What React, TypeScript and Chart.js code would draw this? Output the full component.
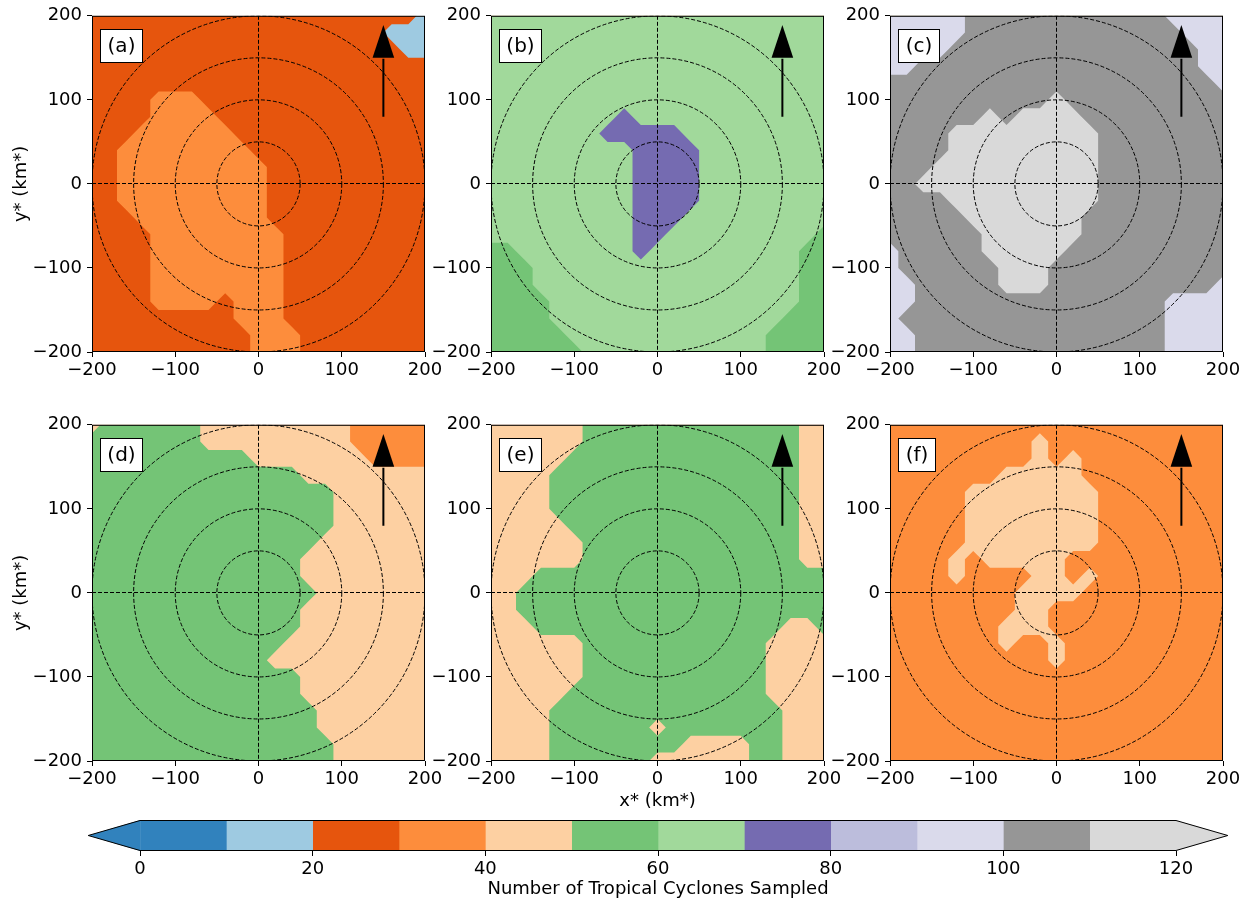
import React, { useEffect, useRef } from 'react';
import { Chart, registerables } from 'chart.js';

Chart.register(...registerables);

const FONT = "'DejaVu Sans', 'Liberation Sans', sans-serif";
const TICK_FONT_PX = 18;
const TITLE_FONT_PX = 18;
const TAG_FONT_PX = 20;

// Storm-relative grid (km*), shared by both axes of every panel.
const GRID_KM = [-200, -180, -160, -140, -120, -100, -80, -60, -40, -20, 0, 20, 40, 60, 80, 100, 120, 140, 160, 180, 200];
const AXIS_TICKS_KM = [-200, -100, 0, 100, 200];
const RING_RADII_KM = [50, 100, 150, 200];

// Colour-bar levels (number of TCs) and the colour of each 10-TC band.
const COUNT_LEVELS = [0, 10, 20, 30, 40, 50, 60, 70, 80, 90, 100, 110, 120];
const COUNT_TICKS = [0, 20, 40, 60, 80, 100, 120];
const BAND_COLORS = ['#3182bd', '#9ecae1', '#e6550d', '#fd8d3c', '#fdd0a2', '#74c476', '#a1d99b', '#756bb1', '#bcbddc', '#dadaeb', '#969696', '#d9d9d9'];
const UNDER_COLOR = '#3182bd';
const OVER_COLOR = '#d9d9d9';

// Storm-motion arrow (km*): x position, then tail / head base / tip heights.
const MOTION_ARROW_X = 150;
const MOTION_ARROW_Y = [80, 150, 189];
const MOTION_ARROW_HALF_WIDTH = 13;

// Sample counts on the 20-km grid. Rows run from y* = 200 (top) to y* = -200,
// columns from x* = -200 to 200. Each character is the count band in tens
// (hex digit: 2 = 20-29 TCs, A = 100-109, B = 110-119).
const COUNTS_A = [
  '222222222222222222221',
  '222222222222222222111',
  '222222222222222222211',
  '222222222222222222222',
  '222222222222222222222',
  '222233322222222222222',
  '222233332222222222222',
  '222333333222222222222',
  '223333333322222222222',
  '223333333332222222222',
  '223333333332222222222',
  '223333333332222222222',
  '222333333332222222222',
  '222233333333222222222',
  '222233333333222222222',
  '222233333333222222222',
  '222233333333222222222',
  '222233332333222222222',
  '222222222333222222222',
  '222222222233322222222',
  '222222222233322222222',
];

const COUNTS_B = [
  '666666666666666666666',
  '666666666666666666666',
  '666666666666666666666',
  '666666666666666666666',
  '666666666666666666666',
  '666666666666666666666',
  '666666667666666666666',
  '666666677777666666666',
  '666666666777766666666',
  '666666666777766666666',
  '666666666777766666666',
  '666666666777766666666',
  '666666666777666666666',
  '666666666776666666665',
  '556666666766666666655',
  '555666666666666666655',
  '555666666666666666655',
  '555566666666666666655',
  '555566666666666666555',
  '555556666666666665555',
  '555555666666666665555',
];

const COUNTS_C = [
  '99999AAAAAAAAAAAA9999',
  '99999AAAAAAAAAAAAA999',
  '9999AAAAAAAAAAAAAAA99',
  '99AAAAAAAAAAAAAAAAA99',
  'AAAAAAAAAAAAAAAAAAAA9',
  'AAAAAAAAAABAAAAAAAAAA',
  'AAAAAABABBBBAAAAAAAAA',
  'AAAABBBBBBBBBAAAAAAAA',
  'AAAABBBBBBBBBAAAAAAAA',
  'AAABBBBBBBBBBAAAAAAAA',
  'AABBBBBBBBBBBAAAAAAAA',
  'AAAABBBBBBBBBAAAAAAAA',
  'AAAAABBBBBBBAAAAAAAAA',
  'AAAAAABBBBBBAAAAAAAAA',
  '9AAAAABBBBBAAAAAAAAAA',
  '9AAAAAABBBAAAAAAAAAAA',
  '99AAAAABBBAAAAAAAAAA9',
  '99AAAAAAAAAAAAAAA9999',
  '9AAAAAAAAAAAAAAAA9999',
  '99AAAAAAAAAAAAAAA9999',
  '99AAAAAAAAAAAAAAA9999',
];

const COUNTS_D = [
  '455555544444444433333',
  '555555544444444433333',
  '555555555544444443333',
  '555555555555544444444',
  '555555555555555444444',
  '555555555555555444444',
  '555555555555555444444',
  '555555555555554444444',
  '555555555555544444444',
  '555555555555544444444',
  '555555555555554444444',
  '555555555555544444444',
  '555555555555544444444',
  '555555555555444444444',
  '555555555554444444444',
  '555555555555544444444',
  '555555555555544444444',
  '555555555555554444444',
  '555555555555554444444',
  '555555555555555444444',
  '555555555555555444444',
];

const COUNTS_E = [
  '444444555555555555544',
  '444444555555555555544',
  '444445555555555555544',
  '444455555555555555544',
  '444455555555555555544',
  '444455555555555555544',
  '444445555555555555544',
  '444444555555555555544',
  '444444555555555555544',
  '444555555555555555555',
  '445555555555555555555',
  '445555555555555555555',
  '444555555555555555445',
  '444444555555555554444',
  '444444555555555554444',
  '444444555555555554444',
  '444445555555555554444',
  '444455555555555555444',
  '444455555545555555444',
  '444455555555444455444',
  '444455555544444455444',
];

const COUNTS_F = [
  '333333333333333333333',
  '333333333433333333333',
  '333333333434333333333',
  '333333344444333333333',
  '333334444444433333333',
  '333334444444433333333',
  '333334444444433333333',
  '333334444444433333333',
  '333343444443333333333',
  '333343333443433333333',
  '333333334444333333333',
  '333333334433333333333',
  '333333344433333333333',
  '333333343343333333333',
  '333333333343333333333',
  '333333333333333333333',
  '333333333333333333333',
  '333333333333333333333',
  '333333333333333333333',
  '333333333333333333333',
  '333333333333333333333',
];

const PANEL_TAGS = ['(a)', '(b)', '(c)', '(d)', '(e)', '(f)'];
const PANEL_COUNTS = [COUNTS_A, COUNTS_B, COUNTS_C, COUNTS_D, COUNTS_E, COUNTS_F];

// Page layout of the 2 x 3 panel grid (pixels).
const COLUMN_LEFT = [92, 491, 890];
const ROW_TOP = [12, 421];
const PLOT_W = 333;
const PLOT_H = 340;

const minusSign = (v: number | string) => String(v).replace('-', '\u2212');

// A count band character stands for the middle of its band.
const bandCount = (ch: string) => parseInt(ch, 16) * 10 + 5;

type Vert = [number, number, number];

// Part of a triangle (linear in count) where count >= level.
function clipAbove(tri: Vert[], level: number): [number, number][] {
  const out: [number, number][] = [];
  for (let i = 0; i < tri.length; i++) {
    const a = tri[i];
    const b = tri[(i + 1) % tri.length];
    const aIn = a[2] >= level;
    const bIn = b[2] >= level;
    if (aIn) out.push([a[0], a[1]]);
    if (aIn !== bIn) {
      const f = (level - a[2]) / (b[2] - a[2]);
      out.push([a[0] + f * (b[0] - a[0]), a[1] + f * (b[1] - a[1])]);
    }
  }
  return out;
}

// Splits a grid cell in two triangles, choosing the diagonal the way marching
// squares would: a lone corner is cut off by a straight line, and a saddle is
// joined or separated according to the cell-centre value.
function cellTriangles(tl: Vert, tr: Vert, br: Vert, bl: Vert, level: number): Vert[][] {
  const a = tl[2] >= level;
  const b = tr[2] >= level;
  const c = br[2] >= level;
  const d = bl[2] >= level;
  const n = (a ? 1 : 0) + (b ? 1 : 0) + (c ? 1 : 0) + (d ? 1 : 0);
  let mainDiagonal = false; // true: split along tl-br
  if (n === 1 || n === 3) {
    const odd = n === 1 ? (a ? 'tl' : b ? 'tr' : c ? 'br' : 'bl') : (!a ? 'tl' : !b ? 'tr' : !c ? 'br' : 'bl');
    mainDiagonal = odd === 'tr' || odd === 'bl';
  } else if (n === 2 && a === c) {
    const centre = (tl[2] + tr[2] + br[2] + bl[2]) / 4;
    mainDiagonal = a ? centre >= level : centre < level;
  }
  return mainDiagonal
    ? [[tl, tr, br], [tl, br, bl]]
    : [[tl, tr, bl], [tr, br, bl]];
}

type PanelSpec = { tag: string; counts: string[]; yTitle: boolean; xTitle: boolean };

function makePanelPlugin(spec: PanelSpec) {
  return {
    id: 'tcSamplePanel',
    beforeDatasetsDraw(chart: any) {
      const { ctx, chartArea: ca, scales } = chart;
      const xs = scales.x;
      const ys = scales.y;
      const px = GRID_KM.map((v) => xs.getPixelForValue(v));
      const rowKm = GRID_KM.slice().reverse();
      const py = rowKm.map((v) => ys.getPixelForValue(v));
      const counts = spec.counts.map((row) => Array.from(row).map(bandCount));
      const flat = counts.flat();
      const maxCount = Math.max(...flat);
      const minCount = Math.min(...flat);

      ctx.save();
      ctx.beginPath();
      ctx.rect(ca.left, ca.top, ca.right - ca.left, ca.bottom - ca.top);
      ctx.clip();
      if (minCount < COUNT_LEVELS[1]) {
        ctx.fillStyle = BAND_COLORS[0];
        ctx.fillRect(ca.left, ca.top, ca.right - ca.left, ca.bottom - ca.top);
      }
      for (let k = 1; k < BAND_COLORS.length; k++) {
        const level = COUNT_LEVELS[k];
        if (level > maxCount) break;
        ctx.beginPath();
        for (let j = 0; j < py.length - 1; j++) {
          for (let i = 0; i < px.length - 1; i++) {
            const tl: Vert = [px[i], py[j], counts[j][i]];
            const tr: Vert = [px[i + 1], py[j], counts[j][i + 1]];
            const br: Vert = [px[i + 1], py[j + 1], counts[j + 1][i + 1]];
            const bl: Vert = [px[i], py[j + 1], counts[j + 1][i]];
            for (const tri of cellTriangles(tl, tr, br, bl, level)) {
              const poly = clipAbove(tri, level);
              if (poly.length < 3) continue;
              ctx.moveTo(poly[0][0], poly[0][1]);
              for (let m = 1; m < poly.length; m++) ctx.lineTo(poly[m][0], poly[m][1]);
              ctx.closePath();
            }
          }
        }
        ctx.fillStyle = BAND_COLORS[k];
        ctx.fill();
      }
      ctx.restore();
    },
    afterDatasetsDraw(chart: any) {
      const { ctx, chartArea: ca, scales } = chart;
      const xs = scales.x;
      const ys = scales.y;
      const cx = xs.getPixelForValue(0);
      const cy = ys.getPixelForValue(0);
      const crisp = (v: number) => Math.floor(v) + 0.5;

      ctx.save();
      ctx.beginPath();
      ctx.rect(ca.left, ca.top, ca.right - ca.left, ca.bottom - ca.top);
      ctx.clip();

      // Dashed range rings and centre lines
      ctx.strokeStyle = '#000';
      ctx.lineWidth = 1;
      ctx.setLineDash([4, 2]);
      ctx.beginPath();
      ctx.moveTo(crisp(cx), ca.top);
      ctx.lineTo(crisp(cx), ca.bottom);
      ctx.moveTo(ca.left, crisp(cy));
      ctx.lineTo(ca.right, crisp(cy));
      ctx.stroke();
      for (const r of RING_RADII_KM) {
        const rx = xs.getPixelForValue(r) - cx;
        const ry = cy - ys.getPixelForValue(r);
        ctx.beginPath();
        ctx.ellipse(cx, cy, rx, ry, 0, 0, Math.PI * 2);
        ctx.stroke();
      }
      ctx.setLineDash([]);

      // Storm-motion arrow
      const ax = xs.getPixelForValue(MOTION_ARROW_X);
      const yTail = ys.getPixelForValue(MOTION_ARROW_Y[0]);
      const yBase = ys.getPixelForValue(MOTION_ARROW_Y[1]);
      const yTip = ys.getPixelForValue(MOTION_ARROW_Y[2]);
      const hw = xs.getPixelForValue(MOTION_ARROW_X + MOTION_ARROW_HALF_WIDTH) - ax;
      ctx.lineWidth = 2;
      ctx.beginPath();
      ctx.moveTo(ax, yTail);
      ctx.lineTo(ax, yBase + 1);
      ctx.stroke();
      ctx.fillStyle = '#000';
      ctx.beginPath();
      ctx.moveTo(ax - hw, yBase);
      ctx.lineTo(ax + hw, yBase);
      ctx.lineTo(ax, yTip);
      ctx.closePath();
      ctx.fill();
      ctx.restore();

      // Panel tag in a white box
      ctx.save();
      ctx.font = `${TAG_FONT_PX}px ${FONT}`;
      const tw = ctx.measureText(spec.tag).width;
      const bx = Math.round(ca.left + 8) + 0.5;
      const by = Math.round(ca.top + 13) + 0.5;
      const bw = Math.round(tw + 14);
      const bh = 33;
      ctx.fillStyle = '#fff';
      ctx.fillRect(bx, by, bw, bh);
      ctx.strokeStyle = '#000';
      ctx.lineWidth = 1;
      ctx.strokeRect(bx, by, bw, bh);
      ctx.fillStyle = '#000';
      ctx.textAlign = 'center';
      ctx.textBaseline = 'middle';
      ctx.fillText(spec.tag, bx + bw / 2, by + bh / 2 + 1);
      ctx.restore();
    },
    afterDraw(chart: any) {
      const { ctx, chartArea: ca } = chart;
      ctx.save();
      ctx.strokeStyle = '#000';
      ctx.lineWidth = 1;
      ctx.strokeRect(ca.left + 0.5, ca.top + 0.5, ca.right - ca.left - 1, ca.bottom - ca.top - 1);
      ctx.fillStyle = '#000';
      ctx.font = `${TITLE_FONT_PX}px ${FONT}`;
      ctx.textAlign = 'center';
      ctx.textBaseline = 'middle';
      if (spec.yTitle) {
        ctx.save();
        ctx.translate(ca.left - 71, (ca.top + ca.bottom) / 2);
        ctx.rotate(-Math.PI / 2);
        ctx.fillText('y* (km*)', 0, 0);
        ctx.restore();
      }
      if (spec.xTitle) {
        ctx.fillText('x* (km*)', (ca.left + ca.right) / 2, ca.bottom + 40);
      }
      ctx.restore();
    },
  };
}

function kmAxis(position: 'bottom' | 'left', size: number) {
  return {
    type: 'linear',
    position,
    min: -200,
    max: 200,
    afterBuildTicks: (scale: any) => {
      scale.ticks = AXIS_TICKS_KM.map((value) => ({ value }));
    },
    afterFit: (scale: any) => {
      if (position === 'bottom') scale.height = size;
      else scale.width = size;
    },
    ticks: {
      color: '#000',
      font: { family: FONT, size: TICK_FONT_PX },
      padding: position === 'bottom' ? 3 : 5,
      maxRotation: 0,
      minRotation: 0,
      autoSkip: false,
      callback: (v: number) => minusSign(v),
    },
    grid: {
      display: true,
      drawOnChartArea: false,
      drawTicks: true,
      tickLength: 5,
      tickWidth: 1,
      tickColor: '#000',
      color: '#000',
    },
    border: { display: false },
  };
}

function Panel({ index }: { index: number }) {
  const ref = useRef<HTMLCanvasElement>(null);
  const col = index % 3;
  const row = Math.floor(index / 3);
  const yAxisW = col === 0 ? 92 : 70;
  const padTop = 12;
  const padRight = 24;
  const xAxisH = row === 1 && col === 1 ? 60 : 32;
  const width = yAxisW + PLOT_W + padRight;
  const height = padTop + PLOT_H + xAxisH;
  const left = COLUMN_LEFT[col] - yAxisW;
  const top = ROW_TOP[row] - padTop;

  useEffect(() => {
    const spec: PanelSpec = {
      tag: PANEL_TAGS[index],
      counts: PANEL_COUNTS[index],
      yTitle: col === 0,
      xTitle: row === 1 && col === 1,
    };
    const chart = new Chart(ref.current as HTMLCanvasElement, {
      type: 'scatter',
      data: { datasets: [] },
      options: {
        responsive: false,
        animation: false,
        events: [],
        layout: { autoPadding: false, padding: { left: 0, top: padTop, right: padRight, bottom: 0 } },
        plugins: { legend: { display: false }, tooltip: { enabled: false } },
        scales: {
          x: kmAxis('bottom', xAxisH),
          y: kmAxis('left', yAxisW),
        },
      } as any,
      plugins: [makePanelPlugin(spec)],
    });
    return () => chart.destroy();
  }, [index]);

  return (
    <canvas
      ref={ref}
      width={width}
      height={height}
      style={{ position: 'absolute', left, top, width, height }}
    />
  );
}

const colorbarPlugin = {
  id: 'colorbarExtensions',
  afterDatasetsDraw(chart: any) {
    const { ctx, chartArea: ca } = chart;
    const ext = 0.05 * (ca.right - ca.left);
    const midY = (ca.top + ca.bottom) / 2;
    ctx.save();
    ctx.fillStyle = UNDER_COLOR;
    ctx.beginPath();
    ctx.moveTo(ca.left + 0.5, ca.top);
    ctx.lineTo(ca.left - ext, midY);
    ctx.lineTo(ca.left + 0.5, ca.bottom);
    ctx.closePath();
    ctx.fill();
    ctx.fillStyle = OVER_COLOR;
    ctx.beginPath();
    ctx.moveTo(ca.right - 0.5, ca.top);
    ctx.lineTo(ca.right + ext, midY);
    ctx.lineTo(ca.right - 0.5, ca.bottom);
    ctx.closePath();
    ctx.fill();

    ctx.strokeStyle = '#000';
    ctx.lineWidth = 1;
    ctx.beginPath();
    ctx.moveTo(ca.left, ca.top + 0.5);
    ctx.lineTo(ca.right, ca.top + 0.5);
    ctx.lineTo(ca.right + ext, midY);
    ctx.lineTo(ca.right, ca.bottom - 0.5);
    ctx.lineTo(ca.left, ca.bottom - 0.5);
    ctx.lineTo(ca.left - ext, midY);
    ctx.closePath();
    ctx.stroke();

    ctx.fillStyle = '#000';
    ctx.font = `${TITLE_FONT_PX}px ${FONT}`;
    ctx.textAlign = 'center';
    ctx.textBaseline = 'middle';
    ctx.fillText('Number of Tropical Cyclones Sampled', (ca.left + ca.right) / 2, ca.bottom + 38);
    ctx.restore();
  },
};

function ColorBar() {
  const ref = useRef<HTMLCanvasElement>(null);
  const width = 1251;
  const height = 103;
  useEffect(() => {
    const chart = new Chart(ref.current as HTMLCanvasElement, {
      type: 'bar',
      data: {
        labels: [''],
        datasets: BAND_COLORS.map((color, k) => ({
          data: [[COUNT_LEVELS[k], COUNT_LEVELS[k + 1]]],
          backgroundColor: color,
          borderWidth: 0,
          barPercentage: 1,
          categoryPercentage: 1,
          grouped: false,
        })),
      },
      options: {
        indexAxis: 'y',
        responsive: false,
        animation: false,
        events: [],
        layout: { autoPadding: false, padding: { left: 140, top: 20, right: 75, bottom: 0 } },
        plugins: { legend: { display: false }, tooltip: { enabled: false } },
        scales: {
          x: {
            type: 'linear',
            position: 'bottom',
            min: COUNT_LEVELS[0],
            max: COUNT_LEVELS[COUNT_LEVELS.length - 1],
            afterBuildTicks: (scale: any) => {
              scale.ticks = COUNT_TICKS.map((value) => ({ value }));
            },
            afterFit: (scale: any) => {
              scale.height = 52;
            },
            ticks: {
              color: '#000',
              font: { family: FONT, size: TICK_FONT_PX },
              padding: 3,
              maxRotation: 0,
              autoSkip: false,
            },
            grid: {
              display: true,
              drawOnChartArea: false,
              drawTicks: true,
              tickLength: 5,
              tickWidth: 1,
              tickColor: '#000',
              color: '#000',
            },
            border: { display: false },
          },
          y: { type: 'category', display: false },
        },
      } as any,
      plugins: [colorbarPlugin],
    });
    return () => chart.destroy();
  }, []);
  return (
    <canvas
      ref={ref}
      width={width}
      height={height}
      style={{ position: 'absolute', left: 0, top: 800, width, height }}
    />
  );
}

export default function App() {
  return (
    <div style={{ position: 'absolute', left: 0, top: 0, width: 1251, height: 903, background: '#fff', overflow: 'hidden' }}>
      {PANEL_TAGS.map((tag, i) => (
        <Panel key={tag} index={i} />
      ))}
      <ColorBar />
    </div>
  );
}
